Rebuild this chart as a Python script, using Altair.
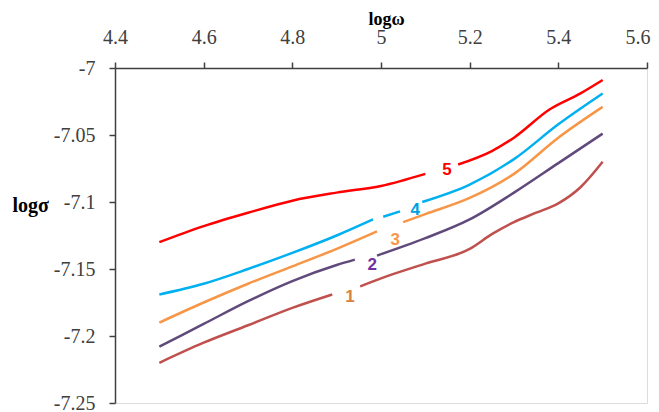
import altair as alt
import pandas as pd

# ---- data (None = gap where the data label sits) ----
series_names = ["1", "2", "3", "4", "5"]
line_colors = ["#c0504d", "#604a7b", "#f79646", "#00b0f0", "#ff0000"]

x1 = [4.5, 4.6, 4.7, 4.8, 4.89, None, 4.953, 5.0, 5.1, 5.2, 5.25, 5.3, 5.35, 5.4, 5.45, 5.5]
y1 = [-7.22, -7.205, -7.192, -7.179, -7.169, None, -7.163, -7.157, -7.146, -7.135, -7.124, -7.115, -7.108, -7.101, -7.089, -7.07]

x2 = [4.5, 4.6, 4.7, 4.8, 4.9, 4.941, None, 4.991, 5.1, 5.2, 5.3, 5.4, 5.5]
y2 = [-7.208, -7.191, -7.174, -7.159, -7.147, -7.143, None, -7.140, -7.127, -7.113, -7.093, -7.071, -7.049]

x3 = [4.5, 4.6, 4.7, 4.8, 4.9, 4.991, None, 5.05, 5.1, 5.2, 5.3, 5.4, 5.5]
y3 = [-7.19, -7.175, -7.161, -7.148, -7.135, -7.122, None, -7.115, -7.109, -7.097, -7.079, -7.052, -7.029]

x4 = [4.5, 4.6, 4.7, 4.8, 4.9, 4.982, None, 5.005, 5.043, None, 5.093, 5.2, 5.3, 5.4, 5.5]
y4 = [-7.169, -7.161, -7.150, -7.138, -7.125, -7.113, None, -7.111, -7.107, None, -7.100, -7.087, -7.068, -7.042, -7.019]

x5 = [4.5, 4.6, 4.7, 4.8, 4.9, 5.0, 5.1, None, 5.174, 5.25, 5.3, 5.38, 5.45, 5.5]
y5 = [-7.13, -7.118, -7.108, -7.099, -7.093, -7.088, -7.079, None, -7.072, -7.062, -7.052, -7.031, -7.019, -7.009]

label_text = ["1", "2", "3", "4", "5"]
label_x = [4.93, 4.98, 5.032, 5.077, 5.149]
label_y = [-7.171, -7.147, -7.128, -7.106, -7.076]
label_colors = ["#d9823b", "#7030a0", "#f79646", "#00a0e0", "#ff0000"]

x_ticks = [4.4, 4.6, 4.8, 5.0, 5.2, 5.4, 5.6]
y_ticks = [-7.25, -7.2, -7.15, -7.1, -7.05, -7.0]

# ---- build table: split each series into segments at the gaps ----
rows = []
for name, xs, ys in zip(series_names, [x1, x2, x3, x4, x5], [y1, y2, y3, y4, y5]):
    seg = 0
    for xv, yv in zip(xs, ys):
        if xv is None:
            seg += 1
            continue
        rows.append({"series": name, "seg": f"{name}-{seg}", "x": xv, "y": yv})
df = pd.DataFrame(rows)

labels = pd.DataFrame({"text": label_text, "x": label_x, "y": label_y, "color": label_colors})

serif = "Liberation Serif"
axis_color = "#404040"
last_x = "datum.value >= 5.59"

x_enc = alt.X(
    "x:Q",
    scale=alt.Scale(domain=[4.4, 5.6], nice=False, zero=False),
    axis=alt.Axis(
        orient="top", values=x_ticks, labelExpr="'' + datum.value",
        title="logω", titleFont=serif, titleFontSize=18, titleFontWeight="bold",
        titleColor="#000000", titleX=271, titleY=-44, titleAlign="center",
        titleBaseline="alphabetic",
        labelFont=serif, labelFontSize=20, labelColor=axis_color,
        labelAlign={"condition": {"test": last_x, "value": "right"}, "value": "center"},
        labelOffset={"condition": {"test": last_x, "value": 3}, "value": 0},
        labelBaseline="alphabetic", labelPadding=19, tickSize=6,
        grid=False, domainColor=axis_color, tickColor=axis_color,
        domainWidth=1.5, tickWidth=1.5, labelFlush=False, labelOverlap=False,
    ),
)
y_enc = alt.Y(
    "y:Q",
    scale=alt.Scale(domain=[-7.25, -7.0], nice=False, zero=False),
    axis=alt.Axis(
        orient="left", values=y_ticks, labelExpr="'' + datum.value",
        title="logσ", titleFont=serif, titleFontSize=20, titleFontWeight="bold",
        titleColor="#000000", titleAngle=0, titleX=-103, titleY=143,
        titleAlign="left", titleBaseline="alphabetic",
        labelFont=serif, labelFontSize=20, labelColor=axis_color,
        labelPadding=14, tickSize=6, grid=False,
        domainColor=axis_color, tickColor=axis_color,
        domainWidth=1.5, tickWidth=1.5, labelFlush=False, labelOverlap=False,
    ),
)

lines = alt.Chart(df).mark_line(strokeWidth=2.5, interpolate="monotone").encode(
    x=x_enc,
    y=y_enc,
    color=alt.Color("series:N", scale=alt.Scale(domain=series_names, range=line_colors), legend=None),
    detail="seg:N",
    order="x:Q",
)

texts = alt.Chart(labels).mark_text(
    font="Liberation Sans", fontSize=17, fontWeight="bold", align="center", baseline="middle"
).encode(
    x="x:Q",
    y="y:Q",
    text="text:N",
    color=alt.Color("color:N", scale=None),
)

chart = (
    alt.layer(lines, texts)
    .properties(
        width=532, height=335,
        autosize=alt.AutoSizeParams(type="none"),
        padding={"left": 107, "top": 60, "right": 4, "bottom": 10},
    )
    .configure_view(stroke=None)
    .configure(background="white")
)

chart.save("out.html", embed_options={"renderer": "svg", "actions": False})
